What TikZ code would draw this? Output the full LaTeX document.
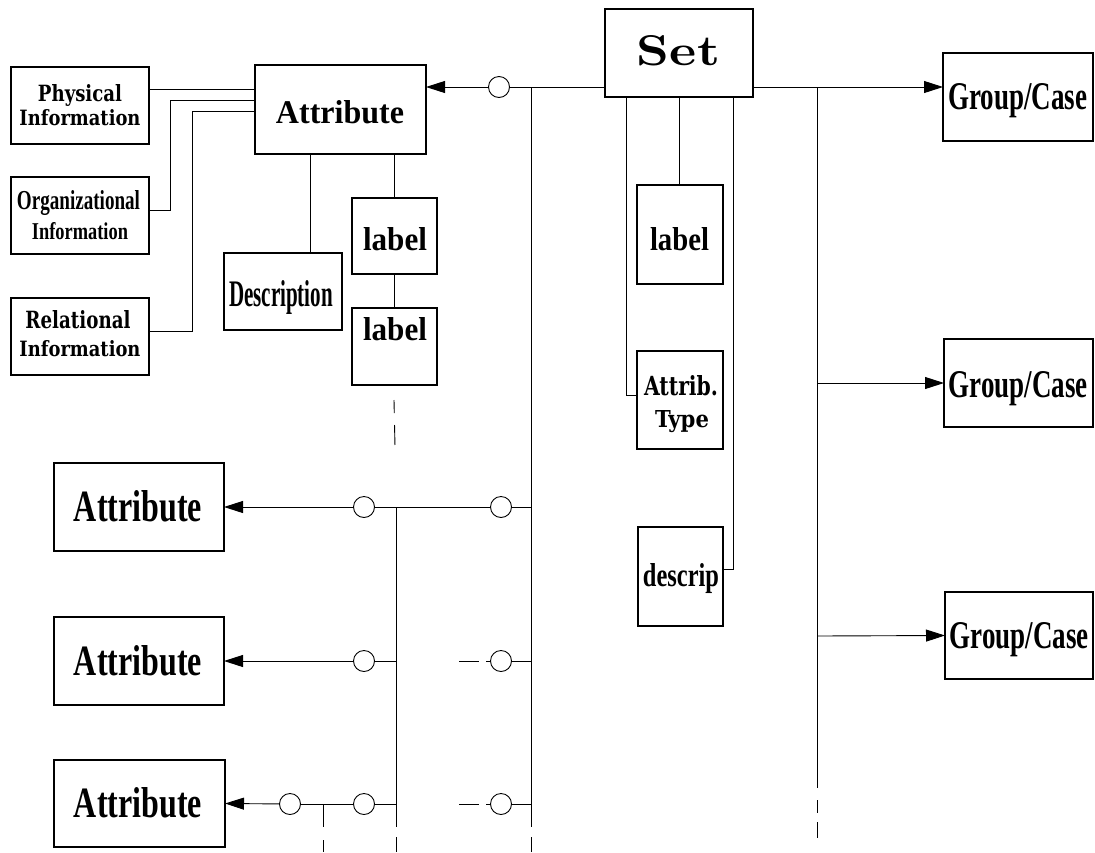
\documentclass[tikz,border=0pt]{standalone}
\usepackage{fontspec}
\usepackage{graphicx}
\newfontfamily\dv{DejaVu Serif}
\newfontfamily\lib{Liberation Serif}
\usetikzlibrary{arrows.meta,calc}
\tikzset{
  box/.style={draw, line width=1.1pt, rectangle, inner sep=0pt, outer sep=0pt},
  txt/.style={inner sep=0pt, outer sep=0pt, anchor=base, font=\bfseries},
  conn/.style={line width=0.9pt},
  ring/.style={draw, circle, line width=0.9pt, minimum size=21pt, inner sep=0pt, outer sep=0pt},
  arr/.style={conn, -{Triangle[length=19pt,width=12pt]}},
  sdash/.style={conn, dash pattern=on 5pt off 7pt on 20pt off 20pt},
}
\newcommand\rtext[3]{\resizebox{#1pt}{#2pt}{#3}}
\newcommand\mkbox[5]{\node[box, minimum width={(#4-#2)*1pt}, minimum height={(#5-#3)*1pt}] (#1) at ({(#2+#4)/2},{(#3+#5)/2}) {};}
\begin{document}
\begin{tikzpicture}[x=1pt,y=-1pt]
\useasboundingbox (0,0) rectangle (1095,852);
% ---------- boxes ----------
\mkbox{phys}{11}{67}{149}{144}
\mkbox{org}{11}{177}{149}{254}
\mkbox{rel}{11}{298}{149}{375}
\mkbox{attr0}{255}{65}{426}{154}
\mkbox{desc}{224}{253}{342}{330}
\mkbox{lab1}{352}{198}{437}{274}
\mkbox{lab2}{352}{308}{437}{385}
\mkbox{set}{605}{9}{753}{97}
\mkbox{slab}{637}{185}{723}{284}
\mkbox{atype}{637}{351}{723}{449}
\mkbox{descrip}{638}{527}{723}{626}
\mkbox{gc1}{943}{53}{1093}{141}
\mkbox{gc2}{944}{339}{1093}{427}
\mkbox{gc3}{945}{592}{1093}{679}
\mkbox{attr2}{54}{463}{224}{551}
\mkbox{attr3}{54}{617}{224}{705}
\mkbox{attr4}{54}{760}{225}{847}
% ---------- texts ----------
\node[txt] (physA) at (80,101) {\dv\rtext{84}{17}{Physical}};
\node[txt] (physB) at (80,125) {\dv\rtext{121}{16}{Information}};
\node[txt] (orgA) at (78.5,209) {\lib\rtext{123}{19}{Organizational}};
\node[txt] (orgB) at (80,239) {\lib\rtext{96}{17}{Information}};
\node[txt] (relA) at (78,328) {\dv\rtext{105}{18}{Relational}};
\node[txt] (relB) at (80,356) {\dv\rtext{121}{16}{Information}};
\node[txt] (attr0T) at (340,123) {\lib\rtext{128}{23}{Attribute}};
\node[txt] (descT) at (281,306) {\lib\rtext{104}{26}{Description}};
\node[txt] (lab1T) at (395,250) {\lib\rtext{64}{23}{label}};
\node[txt] (lab2T) at (395,340) {\lib\rtext{64}{23}{label}};
\node[txt] (setT) at (678.5,65) {\rtext{83}{30}{Set}};
\node[txt] (slabT) at (679.5,250) {\lib\rtext{59}{23}{label}};
\node[txt] (atypeA) at (681,395) {\dv\rtext{74}{20}{Attrib.}};
\node[txt] (atypeB) at (682,427) {\dv\rtext{54}{17}{Type}};
\node[txt] (descripT) at (681,586) {\lib\rtext{76}{23}{descrip}};
\node[txt] (gc1T) at (1017.5,109) {\lib\rtext{139}{26}{Group/Case}};
\node[txt] (gc2T) at (1018,397) {\lib\rtext{139}{26}{Group/Case}};
\node[txt] (gc3T) at (1019,648) {\lib\rtext{139}{26}{Group/Case}};
\node[txt] (attr2T) at (138,521) {\lib\rtext{128}{31}{Attribute}};
\node[txt] (attr3T) at (138,675) {\lib\rtext{128}{30}{Attribute}};
\node[txt] (attr4T) at (138,817) {\lib\rtext{128}{30}{Attribute}};
% ---------- rings ----------
\node[ring] (c0) at (499,87) {};
\node[ring] (c21) at (364,507) {};
\node[ring] (c22) at (501,507) {};
\node[ring] (c31) at (364,661) {};
\node[ring] (c32) at (501,661) {};
\node[ring] (c41) at (290,804) {};
\node[ring] (c42) at (364,804) {};
\node[ring] (c43) at (501,804) {};
% ---------- coordinates ----------
\coordinate (m1) at (531,87);
\coordinate (m2) at (531,507);
\coordinate (m3) at (531,661);
\coordinate (m4) at (531,804);
\coordinate (mEnd) at (531,852);
\coordinate (v2) at (396,507);
\coordinate (v3) at (396,661);
\coordinate (v4) at (396,804);
\coordinate (vEnd) at (396,852);
\coordinate (w4) at (323,804);
\coordinate (wEnd) at (323,852);
\coordinate (d3) at (458,661);
\coordinate (d4) at (458,804);
\coordinate (r1) at (817,87);
\coordinate (r2) at (817,383);
\coordinate (r3) at (817,636);
\coordinate (rEnd) at (817,838);
\coordinate (ld) at (395,447);
\coordinate (xa) at (626,0);
\coordinate (xb) at (679,0);
\coordinate (xc) at (733,0);
\coordinate (xo) at (170,0);
\coordinate (xr) at (192,0);
\coordinate (x310) at (310,0);
\coordinate (x394) at (394,0);
\coordinate (y89) at (0,89);
\coordinate (y100) at (0,100);
\coordinate (y111) at (0,111);
\coordinate (y210) at (0,210);
\coordinate (y331) at (0,331);
% ---------- left top connectors ----------
\draw[conn] (phys.east |- y89) -- (attr0.west |- y89);
\draw[conn] (org.east |- y210) -| (xo |- y100) -- (attr0.west |- y100);
\draw[conn] (rel.east |- y331) -| (xr |- y111) -- (attr0.west |- y111);
\draw[conn] (attr0.south -| x310) -- (desc.north -| x310);
\draw[conn] (attr0.south -| x394) -- (lab1.north -| x394);
\draw[conn] (lab1.south -| x394) -- (lab2.north -| x394);
\draw[conn, dash pattern=on 13pt off 12pt on 20pt off 40pt] ($(lab2.south -| x394)+(0,15)$) -- (ld);
% ---------- main column ----------
\draw[conn] (set.west |- m1) -- (c0);
\draw[arr] (c0) -- (attr0.east |- m1);
\draw[conn, dash pattern=on 740pt off 10pt on 15pt off 50pt] (m1) -- (mEnd);
\draw[conn] (m2) -- (c22);
\draw[conn] (c22) -- (c21);
\draw[arr] (c21) -- (attr2.east);
\draw[conn, dash pattern=on 320pt off 10pt on 15pt off 50pt] (v2) -- (vEnd);
\draw[conn] (m3) -- (c32);
\draw[sdash] (c32) -- (d3);
\draw[conn] (v3) -- (c31);
\draw[arr] (c31) -- (attr3.east);
\draw[conn] (m4) -- (c43);
\draw[sdash] (c43) -- (d4);
\draw[conn] (v4) -- (c42);
\draw[conn] (c42) -- (c41);
\draw[arr] (c41) -- (attr4.east);
\draw[conn, dash pattern=on 23pt off 13pt on 14pt off 50pt] (w4) -- (wEnd);
% ---------- Set children ----------
\draw[conn] (set.south -| xa) |- ([yshift=5pt]atype.west);
\draw[conn] (set.south -| xb) -- (slab.north -| xb);
\draw[conn] (set.south -| xc) |- ([yshift=7.5pt]descrip.east);
% ---------- right column ----------
\draw[arr] (set.east |- m1) -- (gc1.west |- m1);
\draw[conn, dash pattern=on 701pt off 12pt on 13pt off 9pt on 16pt off 50pt] (r1) -- (rEnd);
\draw[arr] (r2) -- (gc2.west);
\draw[arr] (r3) -- (gc3.west);
\end{tikzpicture}
\end{document}
